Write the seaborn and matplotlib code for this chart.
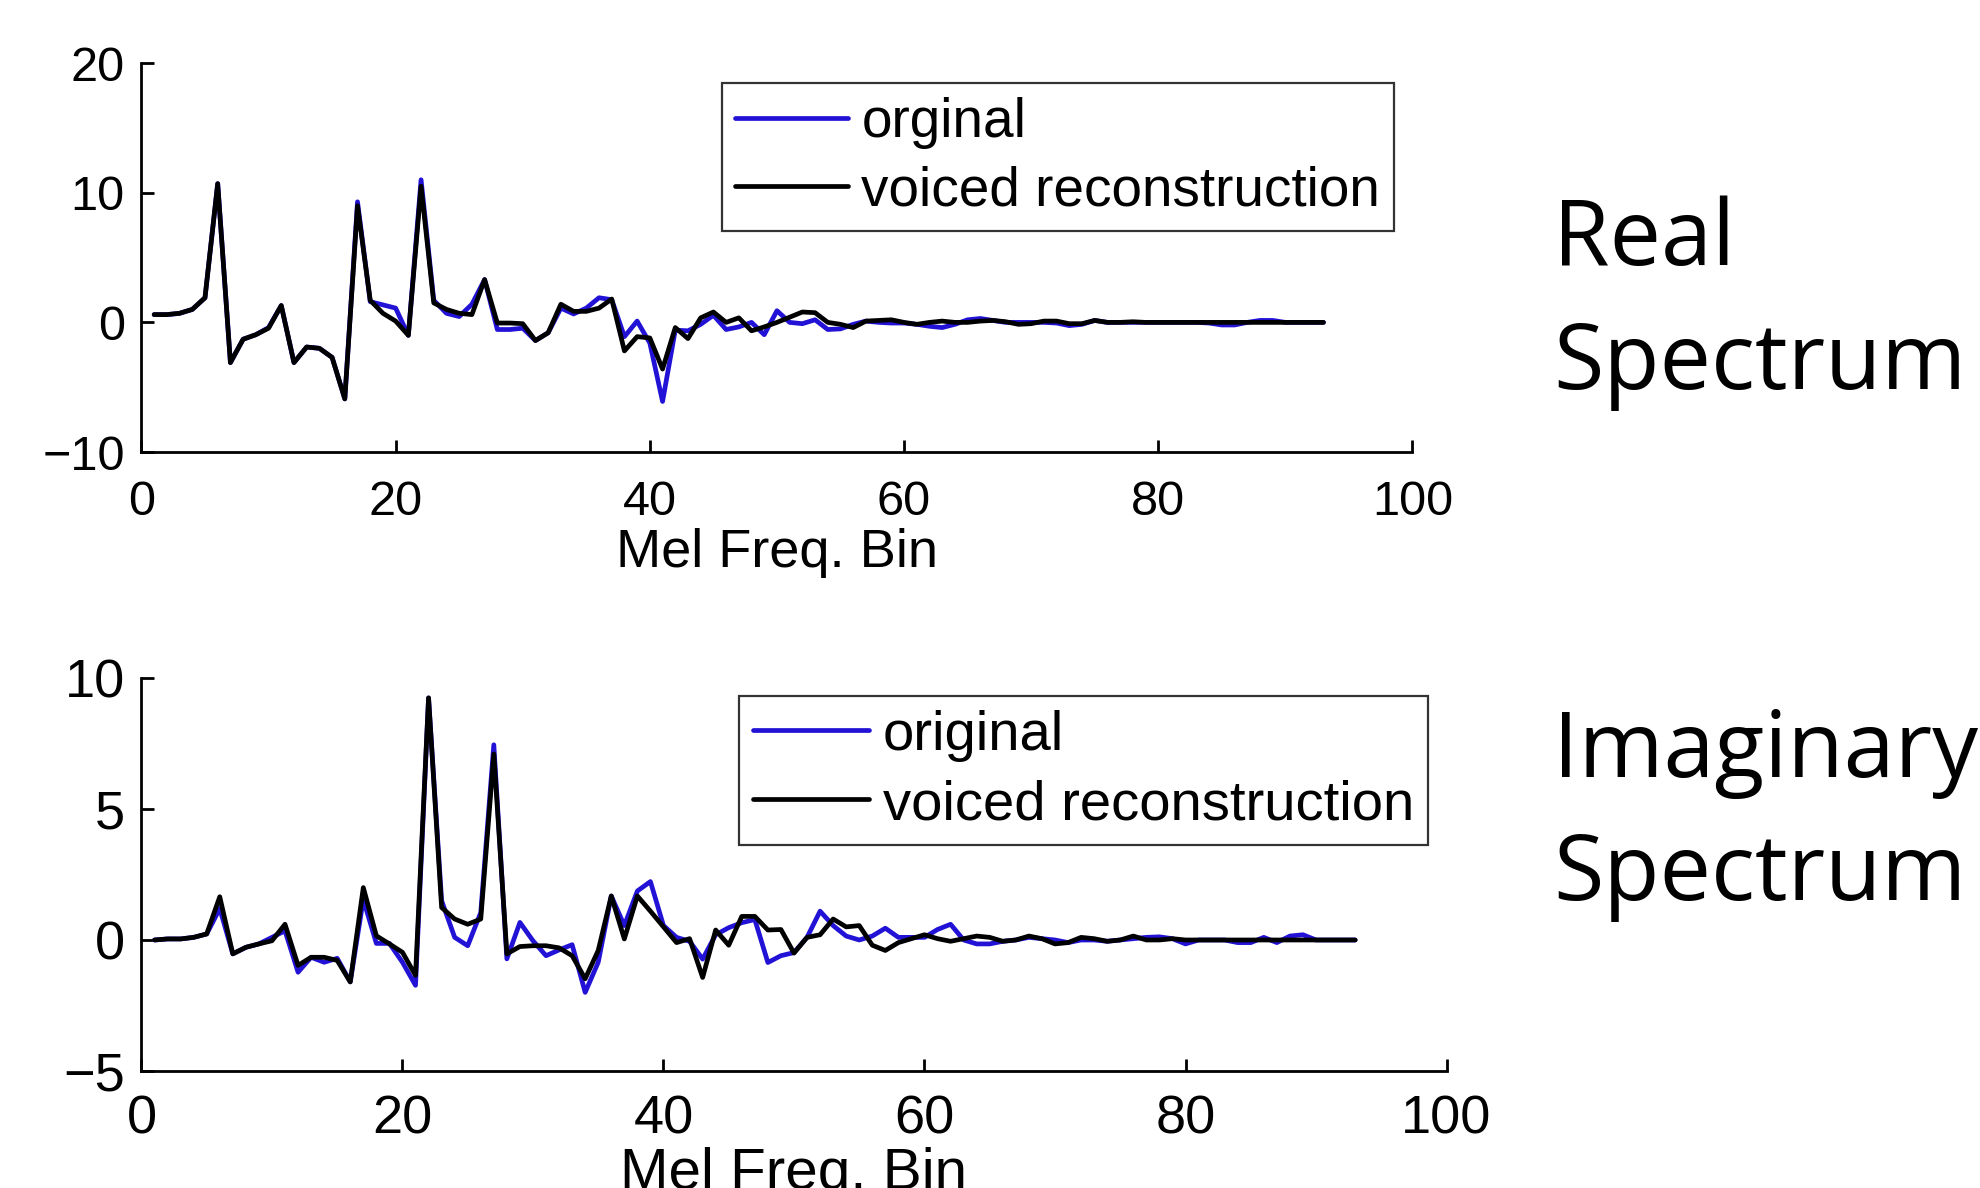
import seaborn as sns
import matplotlib.pyplot as plt
import numpy as np

# Mel frequency bins 1..93
bins = np.arange(1, 94)

# Real spectrum
real_orig = [0.6, 0.6, 0.7, 1.0, 1.9, 10.7, -3.1, -1.3, -0.95, -0.4,
             1.3, -3.1, -1.9, -2.0, -2.7, -5.9, 9.3, 1.6, 1.35, 1.1,
             -1.0, 11.0, 1.7, 0.7, 0.45, 1.4, 3.3, -0.55, -0.55, -0.45,
             -1.4, -0.8, 1.1, 0.65, 1.1, 1.9, 1.75, -1.1, 0.1, -1.6,
             -6.1, -0.6, -0.65, -0.15, 0.55, -0.55, -0.35, 0.0, -0.95, 0.9,
             0.0, -0.1, 0.2, -0.55, -0.5, -0.15, 0.1, 0.0, -0.05, -0.05,
             -0.15, -0.3, -0.4, -0.15, 0.2, 0.3, 0.15, 0.0, 0.0, 0.0,
             0.0, -0.05, -0.25, -0.15, 0.15, 0.0, 0.0, 0.0, 0.0, 0.0,
             0.0, 0.0, 0.0, -0.05, -0.2, -0.2, 0.0, 0.15, 0.15, 0.0,
             0.0, 0.0, 0.0]
real_recon = [0.6, 0.6, 0.7, 1.0, 1.9, 10.7, -3.1, -1.3, -0.95, -0.45,
              1.3, -3.1, -1.9, -2.0, -2.7, -5.9, 9.0, 1.7, 0.7, 0.1,
              -1.0, 10.5, 1.5, 1.0, 0.7, 0.6, 3.3, -0.05, -0.05, -0.1,
              -1.4, -0.8, 1.4, 0.85, 0.85, 1.1, 1.8, -2.2, -1.1, -1.2,
              -3.6, -0.4, -1.25, 0.35, 0.8, 0.0, 0.35, -0.65, -0.35, 0.0,
              0.4, 0.8, 0.75, 0.0, -0.15, -0.4, 0.1, 0.15, 0.2, 0.0,
              -0.15, 0.0, 0.1, 0.0, 0.0, 0.1, 0.15, 0.05, -0.15, -0.1,
              0.1, 0.1, -0.1, -0.1, 0.15, 0.0, 0.0, 0.05, 0.0, 0.0,
              0.0, 0.0, 0.0, 0.0, 0.0, 0.0, 0.0, 0.0, 0.0, 0.0,
              0.0, 0.0, 0.0]

# Imaginary spectrum
imag_orig = [0.0, 0.04, 0.04, 0.1, 0.23, 1.2, -0.53, -0.28, -0.15, 0.1,
             0.35, -1.23, -0.66, -0.85, -0.7, -1.6, 1.55, -0.13, -0.13, -0.85,
             -1.73, 9.24, 1.5, 0.1, -0.22, 1.05, 7.45, -0.72, 0.67, -0.03,
             -0.6, -0.38, -0.18, -2.0, -0.85, 1.68, 0.55, 1.87, 2.23, 0.55,
             0.1, -0.05, -0.73, 0.2, 0.47, 0.66, 0.78, -0.86, -0.6, -0.48,
             0.1, 1.1, 0.55, 0.15, 0.0, 0.15, 0.45, 0.1, 0.1, 0.1,
             0.4, 0.6, 0.0, -0.15, -0.15, -0.05, 0.0, 0.1, 0.05, 0.0,
             -0.1, 0.0, 0.0, -0.05, 0.0, 0.05, 0.1, 0.12, 0.05, -0.15,
             0.0, 0.0, 0.0, -0.1, -0.1, 0.1, -0.1, 0.15, 0.2, 0.0,
             0.0, 0.0, 0.0]
imag_recon = [0.0, 0.04, 0.04, 0.1, 0.23, 1.65, -0.53, -0.28, -0.15, -0.03,
              0.6, -0.97, -0.66, -0.66, -0.78, -1.6, 2.0, 0.16, -0.15, -0.47,
              -1.35, 9.24, 1.24, 0.8, 0.6, 0.8, 7.1, -0.53, -0.25, -0.22,
              -0.22, -0.3, -0.6, -1.48, -0.4, 1.68, 0.04, 1.68, 1.1, 0.5,
              -0.1, 0.05, -1.43, 0.38, -0.2, 0.9, 0.9, 0.38, 0.4, -0.5,
              0.1, 0.2, 0.8, 0.5, 0.55, -0.2, -0.4, -0.1, 0.05, 0.2,
              0.05, -0.05, 0.05, 0.15, 0.1, -0.05, 0.0, 0.15, 0.05, -0.15,
              -0.1, 0.1, 0.05, -0.05, 0.0, 0.15, 0.0, 0.0, 0.05, 0.0,
              0.0, 0.0, 0.0, 0.0, 0.0, 0.0, 0.0, 0.0, 0.0, 0.0,
              0.0, 0.0, 0.0]

x_ticks = [0, 20, 40, 60, 80, 100]
real_yticks = [-10, 0, 10, 20]
imag_yticks = [-5, 0, 5, 10]

BLUE = '#2212d6'

sns.set_style("white")
plt.rcParams['font.family'] = ['Liberation Sans', 'DejaVu Sans']
plt.rcParams['text.color'] = 'black'
plt.rcParams['axes.labelcolor'] = 'black'
plt.rcParams['xtick.color'] = 'black'
plt.rcParams['ytick.color'] = 'black'

fig = plt.figure(figsize=(19.81, 11.88), dpi=100)
ax1 = fig.add_axes([0.0714, 0.6195, 0.6416, 0.3274])
ax2 = fig.add_axes([0.0714, 0.0985, 0.6588, 0.3308])


def style_axis(ax, orig, recon, yticks, ylim, tick_size, label_size, legend_size,
               orig_label, anchor, xpad):
    sns.lineplot(x=bins, y=orig, color=BLUE, linewidth=3.4, ax=ax, label=orig_label)
    sns.lineplot(x=bins, y=recon, color='black', linewidth=3.4, ax=ax,
                 label='voiced reconstruction')
    ax.set_xlim(0, 100)
    ax.set_ylim(*ylim)
    ax.set_xticks(x_ticks)
    ax.set_yticks(yticks)
    for s in ['top', 'right']:
        ax.spines[s].set_visible(False)
    for s in ['left', 'bottom']:
        ax.spines[s].set_color('black')
        ax.spines[s].set_linewidth(2.0)
    ax.tick_params(direction='in', length=9, width=2.0, colors='black',
                   labelsize=tick_size, left=True, bottom=True)
    ax.tick_params(axis='x', pad=xpad)
    ax.tick_params(axis='y', pad=12)
    ax.set_xlabel('Mel Freq. Bin', fontsize=label_size, labelpad=2, color='black')
    ax.set_ylabel('')
    leg = ax.legend(loc='upper right', bbox_to_anchor=anchor, borderaxespad=0,
                    fontsize=legend_size, frameon=True, fancybox=False,
                    handlelength=2.05, handletextpad=0.25, borderpad=0.25,
                    labelspacing=0.3)
    leg.get_frame().set_edgecolor('black')
    leg.get_frame().set_linewidth(1.6)
    for line in leg.get_lines():
        line.set_linewidth(3.4)
    for t in leg.get_texts():
        t.set_color('black')


style_axis(ax1, real_orig, real_recon, real_yticks, (-10, 20), 35, 39, 39.5,
           'orginal', (0.9855, 0.9486), 20)
style_axis(ax2, imag_orig, imag_recon, imag_yticks, (-5, 10), 39, 42, 40.5,
           'original', (0.9858, 0.954), 17)

side_font = ['Open Sans', 'DejaVu Sans']
side_kw = dict(fontsize=66, family=side_font, ha='left', va='baseline', color='black')
fig.text(0.784, 0.777, 'Real', **side_kw)
fig.text(0.784, 0.6726, 'Spectrum', **side_kw)
fig.text(0.784, 0.346, 'Imaginary', **side_kw)
fig.text(0.784, 0.2424, 'Spectrum', **side_kw)

fig.savefig('out.png', dpi=100)
